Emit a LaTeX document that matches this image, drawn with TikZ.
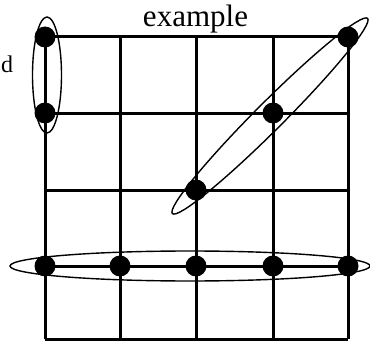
\documentclass[tikz,border=0pt]{standalone}
\usepackage{fontspec}
\setmainfont{Liberation Serif}
\begin{document}
\begin{tikzpicture}[x=1pt,y=1pt,
  gridline/.style={line width=3pt},
  ring/.style={line width=1.4pt},
  dot/.style={circle,fill=black,inner sep=0pt,minimum size=21pt}]
\useasboundingbox (0,0) rectangle (370,341);
% grid
\foreach \x in {45,120,196,273,348} \draw[gridline] (\x,304) -- (\x,2);
\foreach \y in {304,228,151,75,2} \draw[gridline] (45,\y) -- (348,\y);
% dots
\node[dot] (a1) at (45,304) {};
\node[dot] (a2) at (45,228) {};
\node[dot] (b1) at (348,304) {};
\node[dot] (b2) at (273,228) {};
\node[dot] (b3) at (196,151) {};
\node[dot] (c1) at (45,75) {};
\node[dot] (c2) at (120,75) {};
\node[dot] (c3) at (196,75) {};
\node[dot] (c4) at (273,75) {};
\node[dot] (c5) at (348,75) {};
% ellipses
\coordinate (ea) at (47,266);
\coordinate (eb) at (270,225);
\coordinate (ec) at (190,75);
\draw[ring] (ea) ellipse [x radius=14.5, y radius=58];
\draw[ring] (eb) ellipse [x radius=138, y radius=14, rotate=45];
\draw[ring] (ec) ellipse [x radius=180, y radius=15];
% labels
\node[anchor=base,inner sep=0pt,font=\fontsize{31}{31}\selectfont] (t) at (195.5,314) {example};
\node[anchor=base west,inner sep=0pt,font=\fontsize{24}{24}\selectfont] (d) at (1,269) {d};
\end{tikzpicture}
\end{document}
